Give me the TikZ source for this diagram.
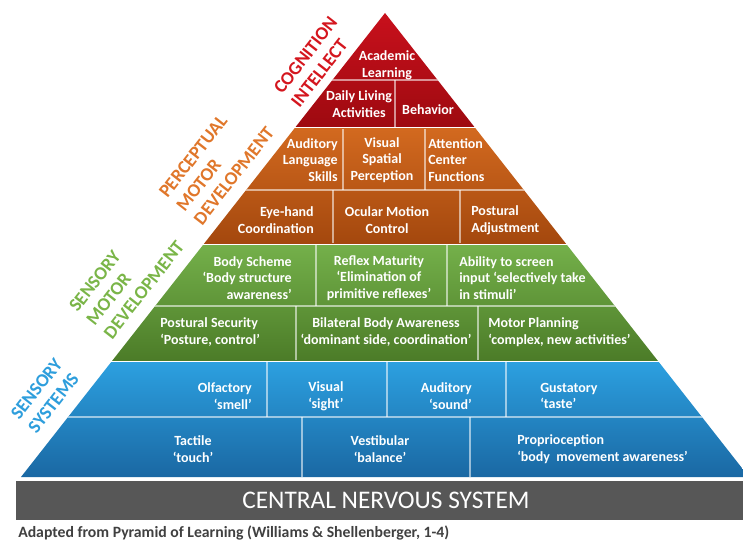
\documentclass[tikz,border=0pt]{standalone}
\usepackage{fontspec}
\setmainfont{Carlito}
\usepackage{xcolor}
\usepackage{tikz}
\usetikzlibrary{positioning}

\definecolor{redtop}{HTML}{C8101C}
\definecolor{redbot}{HTML}{9E0A10}
\definecolor{orangetop}{HTML}{D2691F}
\definecolor{orangebot}{HTML}{A4480E}
\definecolor{greentop}{HTML}{74B04A}
\definecolor{greenbot}{HTML}{4C7C28}
\definecolor{bluetop}{HTML}{2CA0E0}
\definecolor{bluebot}{HTML}{1A68A3}
\definecolor{cogncol}{HTML}{D4161E}
\definecolor{perccol}{HTML}{E0772B}
\definecolor{smotcol}{HTML}{7AB548}
\definecolor{ssyscol}{HTML}{2E9EDC}
\definecolor{cnsgray}{HTML}{575757}
\definecolor{capgray}{HTML}{404040}

\begin{document}
\begin{tikzpicture}[
  x=0.75pt, y=-0.75pt,
  cell/.style={text=white, inner sep=0pt, font=\fontsize{10.5}{12.6}\selectfont\bfseries},
  lcell/.style={cell, anchor=west, align=left},
  rcell/.style={cell, anchor=east, align=right},
  ccell/.style={cell, anchor=center, align=center},
  side/.style={rotate=52, anchor=west, align=left, inner sep=0pt, font=\fontsize{14}{16.5}\selectfont\bfseries},
  divline/.style={draw=white, draw opacity=0.55, line width=0.9pt},
  cnsbar/.style={fill=cnsgray, text=white, inner sep=0pt, minimum width=555pt, minimum height=29.25pt, font=\fontsize{19}{21}\selectfont}
]
\useasboundingbox (0,0) rectangle (743,542);
\clip (0,0) rectangle (743,542);

% Pyramid bands
\begin{scope}
  \clip (385,13) -- (21,477) -- (749,477) -- cycle;
  \shade [top color=redtop, bottom color=redbot] (0,13) rectangle (760,127);
  \shade [top color=orangetop, bottom color=orangebot] (0,129) rectangle (760,243);
  \shade [top color=greentop, bottom color=greenbot] (0,245) rectangle (760,360);
  \shade [top color=bluetop, bottom color=bluebot] (0,362) rectangle (760,477);
  % row lines
  \draw [divline] (0,80) -- (760,80);
  \draw [divline] (0,190) -- (760,190);
  \draw [divline] (0,306) -- (760,306);
  \draw [divline] (0,417) -- (760,417);
  % cell dividers
  \draw [divline] (395,80) -- (395,127);
  \draw [divline] (343,129) -- (343,190);
  \draw [divline] (425,129) -- (425,190);
  \draw [divline] (333,190) -- (333,243);
  \draw [divline] (460,190) -- (460,243);
  \draw [divline] (316,245) -- (316,306);
  \draw [divline] (447,245) -- (447,306);
  \draw [divline] (296,306) -- (296,360);
  \draw [divline] (478,306) -- (478,360);
  \draw [divline] (267,362) -- (267,417);
  \draw [divline] (387,362) -- (387,417);
  \draw [divline] (506,362) -- (506,417);
  \draw [divline] (302,417) -- (302,477);
  \draw [divline] (470,417) -- (470,477);
\end{scope}

% Cognition
\node (acad) [ccell] at (387,65) {Academic\\Learning};
\node (daily) [ccell] at (359,104) {Daily Living\\Activities};
\node (behav) [ccell] at (428,110) {Behavior};

% Perceptual motor
\node (audit) [rcell] at (338,160) {Auditory\\Language\\Skills};
\node (vissp) [ccell] at (382,160) {Visual\\Spatial\\Perception};
\node (atten) [lcell] at (428,160) {Attention\\Center\\Functions};
\node (eyeh) [rcell] at (314,220) {Eye-hand\\Coordination};
\node (ocular) [ccell] at (387,220) {Ocular Motion\\Control};
\node (postadj) [lcell] at (471,220) {Postural\\Adjustment};

% Sensory motor
\node (body) [rcell] at (292,278) {Body Scheme\\‘Body structure\\awareness’};
\node (reflex) [ccell] at (379,278) {Reflex Maturity\\‘Elimination of\\primitive reflexes’};
\node (abil) [lcell] at (459,278) {Ability to screen\\input ‘selectively take\\in stimuli’};
\node (postsec) [lcell] at (160,332) {Postural Security\\‘Posture, control’};
\node (bilat) [ccell] at (386,332) {Bilateral Body Awareness\\‘dominant side, coordination’};
\node (motplan) [lcell] at (488,332) {Motor Planning\\‘complex, new activities’};

% Sensory systems
\node (olf) [rcell] at (252,396) {Olfactory\\‘smell’};
\node (vis) [lcell] at (308,396) {Visual\\‘sight’};
\node (aud) [rcell] at (472,396) {Auditory\\‘sound’};
\node (gust) [lcell] at (540,396) {Gustatory\\‘taste’};
\node (tact) [ccell] at (193,449) {Tactile\\‘touch’};
\node (vest) [ccell] at (380,449) {Vestibular\\‘balance’};
\node (prop) [lcell] at (517,449) {Proprioception\\‘body\ \ movement awareness’};

% Side labels
\node (cogn) [side, text=cogncol] at (286,98) {COGNITION\\INTELLECT};
\node (percep) [side, text=perccol] at (180,209) {PERCEPTUAL\\MOTOR\\DEVELOPMENT};
\node (senmot) [side, text=smotcol] at (90,323) {SENSORY\\MOTOR\\DEVELOPMENT};
\node (sensys) [side, text=ssyscol] at (23,424) {SENSORY\\SYSTEMS};

% Base
\node (cns) [cnsbar] at (386,500.5) {CENTRAL NERVOUS SYSTEM};
\node (src) [anchor=west, inner sep=0pt, text=capgray, font=\fontsize{11.8}{14}\selectfont\bfseries] at (18,533) {Adapted from Pyramid of Learning (Williams \& Shellenberger, 1-4)};

\end{tikzpicture}
\end{document}
